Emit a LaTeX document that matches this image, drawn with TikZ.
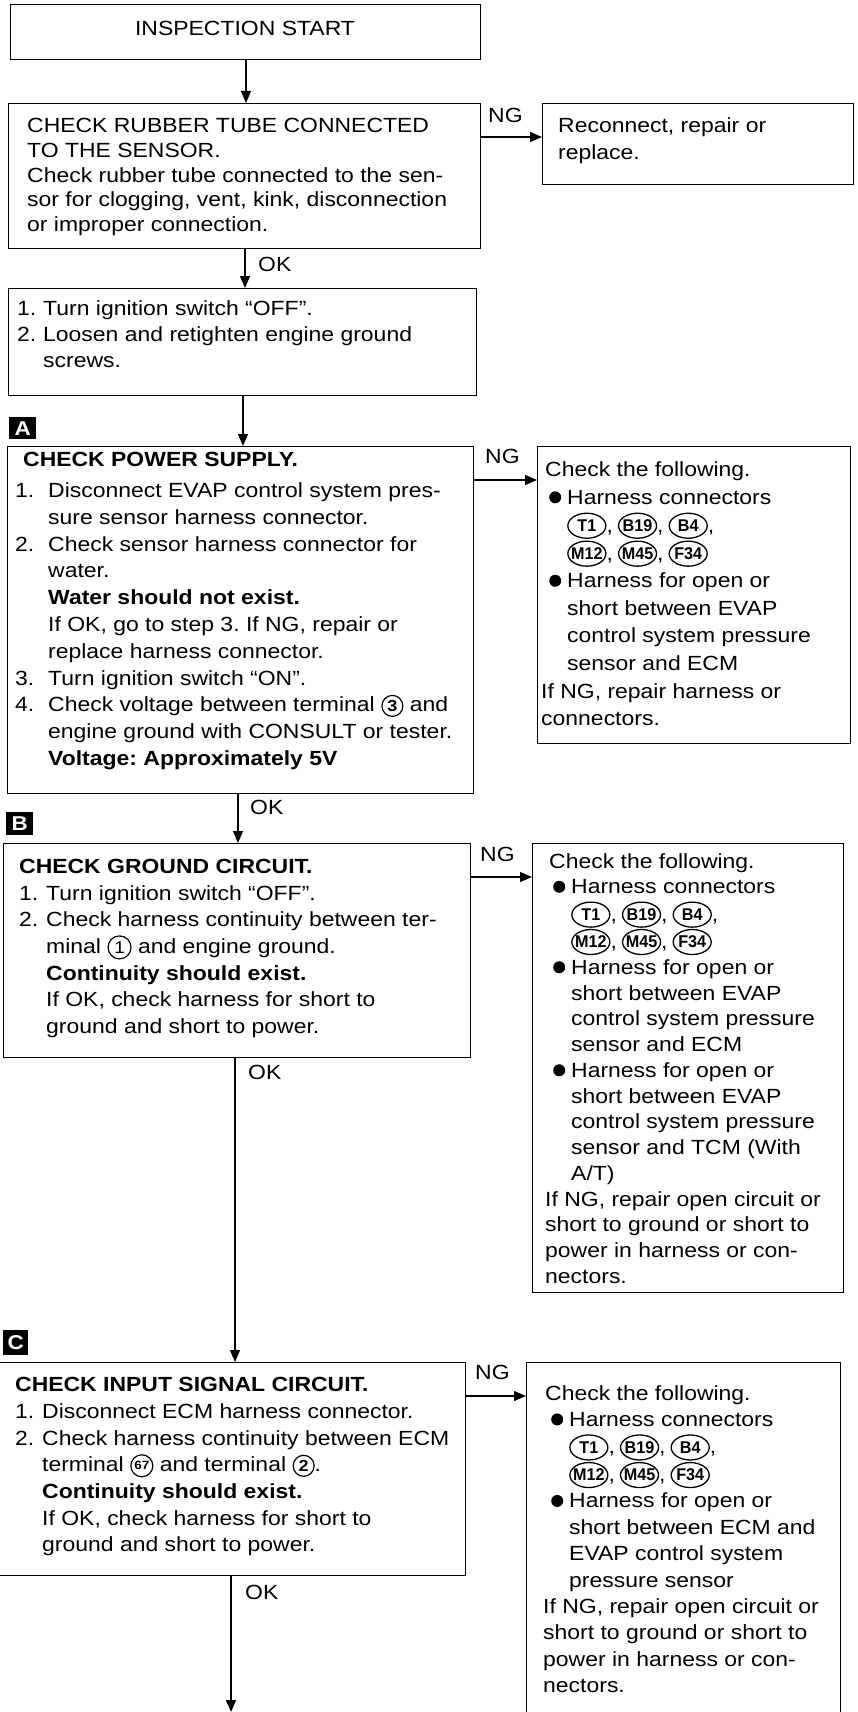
\documentclass[tikz,border=0pt]{standalone}
\usepackage{fontspec}
\usepackage{graphicx}
\setmainfont{Liberation Sans}[FakeStretch=1.12]
\usetikzlibrary{arrows.meta,shapes.geometric}
\tikzset{
  box/.style={draw, line width=1.4pt, inner sep=0pt, anchor=north west},
  txt/.style={anchor=base west, inner sep=0pt, font=\fontsize{20.5}{#1}\selectfont},
  txt/.default=26,
  lbl/.style={inner sep=0pt, font=\fontsize{20.5}{24}\selectfont},
  arr/.style={line width=1.2pt, -{Triangle[length=12pt,width=10pt]}},
  tag/.style={fill=black, text=white, inner sep=0pt, anchor=north west, font=\bfseries\fontsize{20}{20}\selectfont},
}
\frenchspacing
\newcommand{\tx}[1]{\begin{tabular}[t]{@{}l@{}}#1\end{tabular}}
\newcommand{\nm}[2][27pt]{\makebox[#1][l]{#2}}
\newcommand{\ii}[1][27pt]{\hspace*{#1}}
\newcommand{\cn}[1]{\tikz[baseline=0pt]{\draw[line width=1.3pt] (0pt,6.5pt) ellipse [x radius=19pt, y radius=12.5pt]; \node[inner sep=0pt, anchor=center, font=\bfseries\fontsize{17}{17}\selectfont] (cc) at (0pt,6.5pt) {\scalebox{0.85}[1]{#1}};}}
\newcommand{\cnum}[3]{\tikz[baseline=0pt]{\draw[line width=1.2pt] (0pt,6pt) circle [radius=#2]; \node[inner sep=0pt, anchor=center, font=#3] (cc) at (0pt,6pt) {#1};}}
\newcommand{\blt}{\tikz[baseline=0pt]{\fill (6pt,7pt) circle [radius=6pt];}}
\newcommand{\bl}{\hspace*{8pt}\blt\hspace{6pt}}
\newcommand{\cs}{,\hspace{5pt}}
\begin{document}
\begin{tikzpicture}[x=1pt,y=-1pt]
\clip (0,0) rectangle (858,1712);
\fill[white] (0,0) rectangle (858,1712);
% column x positions for connectors
\coordinate (xa) at (246,0);
\coordinate (xb) at (245,0);
\coordinate (xc) at (243,0);
\coordinate (xd) at (238,0);
\coordinate (xe) at (235,0);
\coordinate (bottomend) at (231,1712);
\coordinate (ng1) at (0,137);
\coordinate (ng2) at (0,480);
\coordinate (ng3) at (0,877);
\coordinate (ng4) at (0,1396);

% start
\node[box, minimum width=470pt, minimum height=55pt] (start) at (10,4) {};
\node[lbl] (starttxt) at (245,28) {INSPECTION START};

% rubber tube
\node[box, minimum width=472pt, minimum height=145pt] (rub) at (8,103) {};
\node[txt=24.7] (rubtxt) at (27,132.7) {\tx{CHECK RUBBER TUBE CONNECTED\\TO THE SENSOR.\\Check rubber tube connected to the sen-\\sor for clogging, vent, kink, disconnection\\or improper connection.}};

% reconnect
\node[box, minimum width=311pt, minimum height=81pt] (recon) at (542,103) {};
\node[txt=27] (recontxt) at (558,133) {\tx{Reconnect, repair or\\replace.}};

% ignition
\node[box, minimum width=468pt, minimum height=107pt] (ign) at (8,288) {};
\node[txt=26] (igntxt) at (17,315.5) {\tx{\nm[26pt]{1.}Turn ignition switch “OFF”.\\\nm[26pt]{2.}Loosen and retighten engine ground\\\ii[26pt]screws.}};

% A
\node[tag, minimum width=27pt, minimum height=22pt] (tagA) at (9,417) {A};
\node[box, minimum width=466pt, minimum height=347pt] (pwr) at (7,446) {};
\node[txt=26.8] (pwrtxt) at (15,466.7) {\tx{\hspace*{8pt}\textbf{CHECK POWER SUPPLY.}\\[4pt]
\nm[33pt]{1.}Disconnect EVAP control system pres-\\
\ii[33pt]sure sensor harness connector.\\
\nm[33pt]{2.}Check sensor harness connector for\\
\ii[33pt]water.\\
\ii[33pt]\textbf{Water should not exist.}\\
\ii[33pt]If OK, go to step 3. If NG, repair or\\
\ii[33pt]replace harness connector.\\
\nm[33pt]{3.}Turn ignition switch “ON”.\\
\nm[33pt]{4.}Check voltage between terminal \cnum{3}{10.5pt}{\bfseries\fontsize{16}{16}\selectfont} and\\
\ii[33pt]engine ground with CONSULT or tester.\\
\ii[33pt]\textbf{Voltage: Approximately 5V}}};

\node[box, minimum width=313pt, minimum height=297pt] (nga) at (537,446) {};
\node[txt=27.6] (ngatxt) at (541,476.7) {\tx{\hspace*{4pt}Check the following.\\
\bl Harness connectors\\
\ii[26pt]\cn{T1}\cs\cn{B19}\cs\cn{B4},\\
\ii[26pt]\cn{M12}\cs\cn{M45}\cs\cn{F34}\\
\bl Harness for open or\\
\ii[26pt]short between EVAP\\
\ii[26pt]control system pressure\\
\ii[26pt]sensor and ECM\\
If NG, repair harness or\\
connectors.}};

% B
\node[tag, minimum width=27pt, minimum height=23pt] (tagB) at (6,812) {B};
\node[box, minimum width=467pt, minimum height=214pt] (gnd) at (3,843) {};
\node[txt=26.7] (gndtxt) at (19,873.3) {\tx{\textbf{CHECK GROUND CIRCUIT.}\\
\nm{1.}Turn ignition switch “OFF”.\\
\nm{2.}Check harness continuity between ter-\\
\ii minal \cnum{1}{11.5pt}{\fontsize{17}{17}\selectfont} and engine ground.\\
\ii\textbf{Continuity should exist.}\\
\ii If OK, check harness for short to\\
\ii ground and short to power.}};

\node[box, minimum width=311pt, minimum height=449pt] (ngb) at (532,843) {};
\node[txt=25.75] (ngbtxt) at (545,868) {\tx{\hspace*{4pt}Check the following.\\
\bl Harness connectors\\
\ii[26pt]\cn{T1}\cs\cn{B19}\cs\cn{B4},\\
\ii[26pt]\cn{M12}\cs\cn{M45}\cs\cn{F34}\\
\bl Harness for open or\\
\ii[26pt]short between EVAP\\
\ii[26pt]control system pressure\\
\ii[26pt]sensor and ECM\\
\bl Harness for open or\\
\ii[26pt]short between EVAP\\
\ii[26pt]control system pressure\\
\ii[26pt]sensor and TCM (With\\
\ii[26pt]A/T)\\
If NG, repair open circuit or\\
short to ground or short to\\
power in harness or con-\\
nectors.}};

% C
\node[tag, minimum width=25pt, minimum height=25pt] (tagC) at (3,1330) {C};
\node[box, minimum width=467pt, minimum height=213pt] (inp) at (-2,1362) {};
\node[txt=26.7] (inptxt) at (15,1391.7) {\tx{\textbf{CHECK INPUT SIGNAL CIRCUIT.}\\
\nm{1.}Disconnect ECM harness connector.\\
\nm{2.}Check harness continuity between ECM\\
\ii terminal \cnum{67}{11pt}{\bfseries\fontsize{12}{12}\selectfont} and terminal \cnum{2}{10.5pt}{\bfseries\fontsize{16}{16}\selectfont}.\\
\ii\textbf{Continuity should exist.}\\
\ii If OK, check harness for short to\\
\ii ground and short to power.}};

\node[box, minimum width=314pt, minimum height=360pt] (ngc) at (526,1362) {};
\node[txt=26.4] (ngctxt) at (543,1400) {\tx{\hspace*{2pt}Check the following.\\
\bl Harness connectors\\
\ii[26pt]\cn{T1}\cs\cn{B19}\cs\cn{B4},\\
\ii[26pt]\cn{M12}\cs\cn{M45}\cs\cn{F34}\\
\bl Harness for open or\\
\ii[26pt]short between ECM and\\
\ii[26pt]EVAP control system\\
\ii[26pt]pressure sensor\\
If NG, repair open circuit or\\
short to ground or short to\\
power in harness or con-\\
nectors.}};

% connectors
\draw[arr] (start.south -| xa) -- (rub.north -| xa);
\draw[arr] (rub.south -| xb) -- (ign.north -| xb);
\draw[arr] (ign.south -| xc) -- (pwr.north -| xc);
\draw[arr] (pwr.south -| xd) -- (gnd.north -| xd);
\draw[arr] (gnd.south -| xe) -- (inp.north -| xe);
\draw[arr] (inp.south -| bottomend) -- (bottomend);
\draw[arr] (rub.east |- ng1) -- (recon.west |- ng1);
\draw[arr] (pwr.east |- ng2) -- (nga.west |- ng2);
\draw[arr] (gnd.east |- ng3) -- (ngb.west |- ng3);
\draw[arr] (inp.east |- ng4) -- (ngc.west |- ng4);

% labels
\node[lbl, anchor=west] (ngl1) at (488,115) {NG};
\node[lbl, anchor=west] (ngl2) at (485,456.5) {NG};
\node[lbl, anchor=west] (ngl3) at (480,854.5) {NG};
\node[lbl, anchor=west] (ngl4) at (475,1372.5) {NG};
\node[lbl, anchor=west] (okl1) at (258,264.5) {OK};
\node[lbl, anchor=west] (okl2) at (250,807.5) {OK};
\node[lbl, anchor=west] (okl3) at (248,1072) {OK};
\node[lbl, anchor=west] (okl4) at (245,1592) {OK};
\end{tikzpicture}
\end{document}
